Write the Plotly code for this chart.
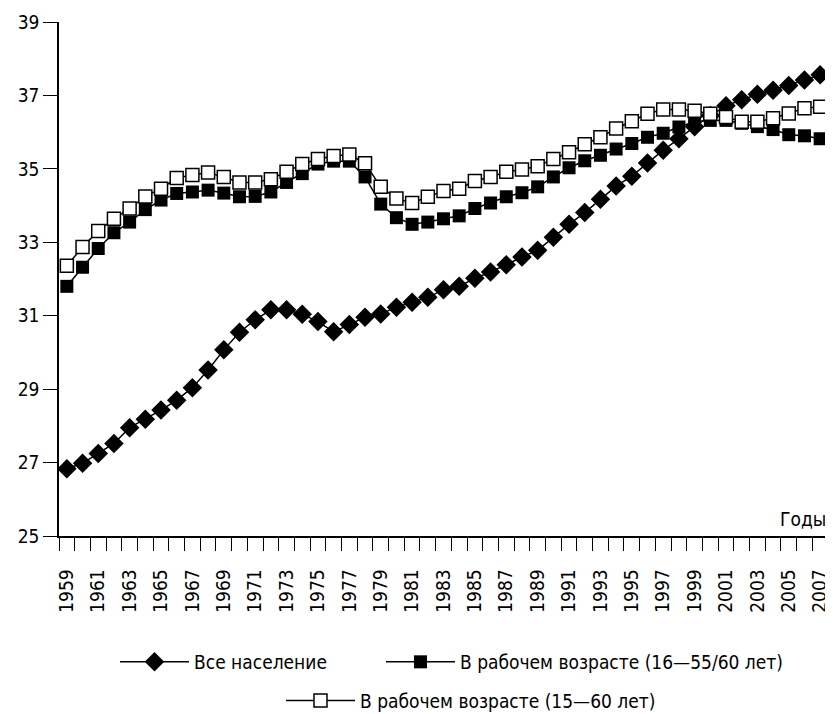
import plotly.graph_objects as go

# Средний возраст населения, лет
years = list(range(1959, 2008))

all_population = [
    26.83, 26.98, 27.25, 27.52, 27.95, 28.18, 28.43, 28.70, 29.04, 29.52,
    30.07, 30.55, 30.89, 31.16, 31.16, 31.04, 30.84, 30.56, 30.76, 30.96,
    31.05, 31.23, 31.37, 31.50, 31.71, 31.80, 32.02, 32.19, 32.39, 32.60,
    32.78, 33.14, 33.49, 33.81, 34.17, 34.53, 34.80, 35.16, 35.51, 35.82,
    36.15, 36.45, 36.72, 36.88, 37.03, 37.14, 37.27, 37.42, 37.56,
]

working_16_55_60 = [
    31.80, 32.32, 32.83, 33.26, 33.55, 33.89, 34.15, 34.33, 34.37, 34.42,
    34.34, 34.24, 34.25, 34.37, 34.63, 34.87, 35.13, 35.21, 35.21, 34.78,
    34.04, 33.67, 33.49, 33.55, 33.64, 33.72, 33.92, 34.07, 34.24, 34.35,
    34.51, 34.78, 35.03, 35.22, 35.37, 35.54, 35.69, 35.86, 35.97, 36.14,
    36.28, 36.32, 36.32, 36.24, 36.15, 36.07, 35.93, 35.90, 35.82,
]

working_15_60 = [
    32.36, 32.87, 33.31, 33.64, 33.92, 34.25, 34.46, 34.75, 34.83, 34.90,
    34.78, 34.63, 34.63, 34.72, 34.92, 35.13, 35.27, 35.35, 35.39, 35.15,
    34.51, 34.19, 34.07, 34.24, 34.40, 34.46, 34.67, 34.78, 34.92, 34.98,
    35.07, 35.27, 35.45, 35.67, 35.86, 36.10, 36.30, 36.50, 36.62, 36.62,
    36.58, 36.50, 36.41, 36.28, 36.28, 36.38, 36.51, 36.65, 36.69,
]

names = [
    "Все население",
    "В рабочем возрасте (16—55/60 лет)",
    "В рабочем возрасте (15—60 лет)",
]

FONT = "Liberation Sans Narrow, Arial Narrow, DejaVu Sans Condensed, sans-serif"
line = dict(color="black", width=1.5)

fig = go.Figure()
fig.add_trace(go.Scatter(
    x=years, y=all_population, name=names[0], mode="lines+markers",
    line=line, legend="legend",
    marker=dict(symbol="diamond", size=15, color="black"),
))
fig.add_trace(go.Scatter(
    x=years, y=working_16_55_60, name=names[1], mode="lines+markers",
    line=line, legend="legend2",
    marker=dict(symbol="square", size=13, color="black"),
))
fig.add_trace(go.Scatter(
    x=years, y=working_15_60, name=names[2], mode="lines+markers",
    line=line, legend="legend3",
    marker=dict(symbol="square", size=13, color="white",
                line=dict(color="black", width=1.5)),
))

# одна подпись легенды = одна отдельная легенда, чтобы повторить раскладку
leg = dict(orientation="h", xanchor="left", yanchor="middle",
           xref="container", yref="container",
           itemwidth=69, font=dict(size=19), bgcolor="rgba(0,0,0,0)")

fig.update_layout(
    width=825, height=706,
    margin=dict(l=51, r=5, t=14, b=178, autoexpand=False),
    plot_bgcolor="white", paper_bgcolor="white",
    font=dict(family=FONT, size=19, color="black"),
    showlegend=True,
    legend=dict(leg, x=0.1297, y=0.0737),
    legend2=dict(leg, x=0.4521, y=0.0737),
    legend3=dict(leg, x=0.3309, y=0.0190),
    annotations=[dict(text="Годы", xref="paper", yref="paper", x=1, y=0,
                      xanchor="right", yanchor="bottom", yshift=4,
                      showarrow=False, font=dict(size=19))],
)

fig.update_xaxes(
    range=[1958.5, 2007.5], showgrid=False, zeroline=False, automargin=False,
    showline=True, linecolor="black", linewidth=1.5,
    tickmode="linear", tick0=1959, dtick=2, ticks="", tickangle=-90,
    ticklabelstandoff=24,
    minor=dict(ticks="outside", tickmode="linear", tick0=1958.5, dtick=1,
               ticklen=13, tickwidth=1.2, tickcolor="black", showgrid=False),
)
fig.update_yaxes(
    range=[25, 39], showgrid=False, zeroline=False, automargin=False,
    showline=True, linecolor="black", linewidth=1.5,
    tickmode="linear", tick0=25, dtick=2, ticks="outside", ticklen=14,
    tickwidth=1.2, tickcolor="black",
)

fig.write_html("out.html")
